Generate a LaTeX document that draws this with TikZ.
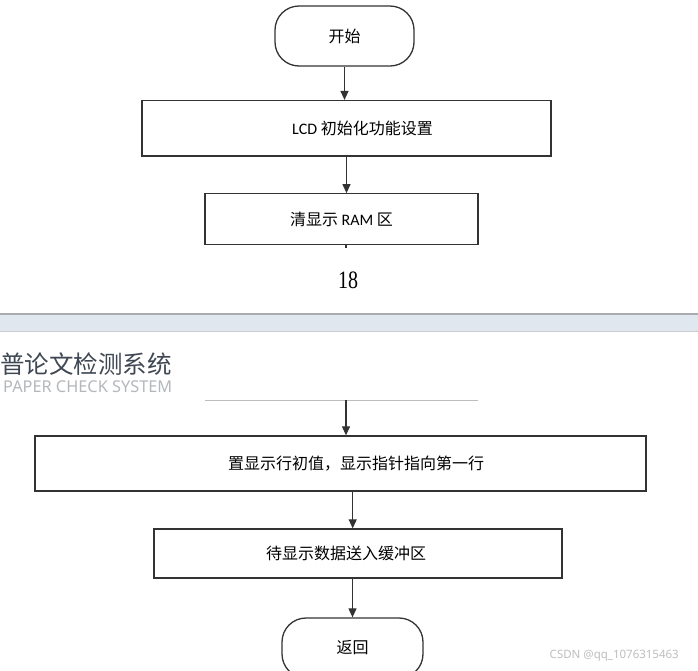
\documentclass[tikz,border=0pt]{standalone}
\usepackage{fontspec}
\setmainfont{Liberation Serif}
\newfontfamily\cjk{Noto Sans CJK SC}
\newfontfamily\latinsans{Carlito}
\newfontfamily\headsans{Noto Sans}
\usetikzlibrary{arrows.meta}
\definecolor{ln}{HTML}{333333}
\definecolor{headc}{HTML}{3F4753}
\definecolor{subc}{HTML}{B4B8BC}
\definecolor{bandc}{HTML}{E1E7EE}
\definecolor{bandtop}{HTML}{A9ADB1}
\definecolor{bandbot}{HTML}{C9CDD1}
\definecolor{thinline}{HTML}{BDBDBD}
\definecolor{wmark}{HTML}{BFBFBF}
\begin{document}
\begin{tikzpicture}[x=1pt,y=-1pt,
  box/.style={draw=ln, line width=1.3pt, rectangle, inner sep=0pt, text=black,
    font=\cjk\fontsize{16}{18}\selectfont},
  term/.style={box, rounded corners=24pt},
  arr/.style={draw=ln, line width=1.2pt, -{Triangle[length=9pt,width=8pt]}}]
\useasboundingbox (0,0) rectangle (698,670);
\begin{scope}
\clip (0,0) rectangle (698,670);
\fill[white] (0,0) rectangle (698,670);
% page separator band
\fill[bandc] (0,314) rectangle (698,331);
\draw[bandtop, line width=1.5pt] (0,314) -- (698,314);
\draw[bandbot, line width=1pt] (0,331) -- (698,331);

% upper part
\node[term, minimum width=139pt, minimum height=60pt] (start) at (344.5,36) {开始};
\node[box, minimum width=409pt, minimum height=55.5pt] (box1) at (346.5,128.3)
  {\hspace*{32pt}{\latinsans LCD} 初始化功能设置};
\node[box, minimum width=273pt, minimum height=50.5pt] (box2) at (341.5,219)
  {清显示 {\latinsans RAM} 区};
\node[inner sep=0pt, font=\fontsize{25}{25}\selectfont] (num) at (348,280)
  {\scalebox{0.8}[1]{18}};

\draw[arr] (start.south) -- (start.south |- box1.north);
\draw[arr] (box1.south) -- (box1.south |- box2.north);
\coordinate (stub) at (346,248);
\draw[draw=ln, line width=1.2pt] (box2.south -| stub) -- (stub);

% header of the next page
\node[anchor=west, inner sep=0pt, text=headc, font=\cjk\fontsize{24.5}{26}\selectfont]
  (head) at (0,364.5) {普论文检测系统};
\node[anchor=west, inner sep=0pt, text=subc] (sub) at (3,386.5)
  {\resizebox{169pt}{!}{\headsans\fontsize{18}{18}\selectfont PAPER CHECK SYSTEM}};

% lower part
\coordinate (gl) at (205,400);
\coordinate (gr) at (478,400);
\draw[thinline, line width=1pt] (gl) -- (gr);
\coordinate (top) at (346,400);
\node[box, minimum width=611pt, minimum height=55pt] (box3) at (340.5,463.5)
  {\hspace*{31pt}置显示行初值，显示指针指向第一行};
\node[box, minimum width=408pt, minimum height=49pt] (box4) at (358,553.5)
  {待显示数据送入缓冲区\hspace*{24pt}};
\node[term, minimum width=141pt, minimum height=60pt] (stop) at (352.5,648) {返回};

\draw[arr] (top) -- (top |- box3.north);
\draw[arr] ([xshift=-5.3pt]box4.north |- box3.south) -- ([xshift=-5.3pt]box4.north);
\draw[arr] (stop.north |- box4.south) -- (stop.north);

% watermark
\node[anchor=east, inner sep=0pt, text=wmark, font=\headsans\fontsize{11.5}{12}\selectfont]
  (wm) at (679,656) {CSDN @qq\_1076315463};
\end{scope}
\end{tikzpicture}
\end{document}
